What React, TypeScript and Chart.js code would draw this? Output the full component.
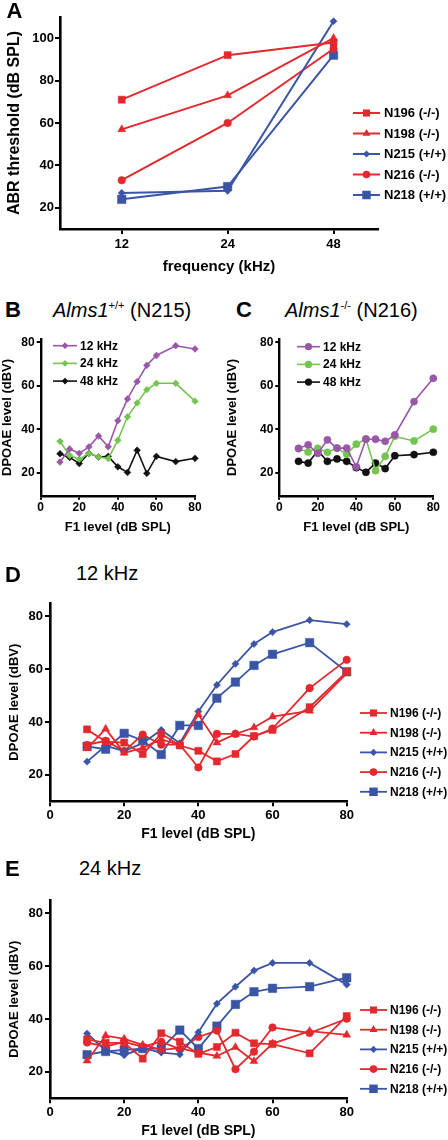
import React, { useEffect, useRef } from 'react';
import { Chart, registerables } from 'chart.js';

Chart.register(...registerables);

const FONT = "'Liberation Sans', Arial, Helvetica, sans-serif";

// ---------- Panel A: ABR thresholds ----------
const abrFreqLabels = ['12', '24', '48'];
const abrN196 = [71, 92, 98];
const abrN198 = [57, 73, 100];
const abrN215 = [27, 28, 108];
const abrN216 = [33, 60, 95];
const abrN218 = [24, 30, 92];
const abrYTicks = [20, 40, 60, 80, 100];

// ---------- DPOAE: F1 levels ----------
const f1Levels = [10, 15, 20, 25, 30, 35, 40, 45, 50, 55, 60, 70, 80];
const f1Ticks = [0, 20, 40, 60, 80];
const dpoaeTicks = [20, 40, 60, 80];

// Panel B: N215 (+/+)
const n215at12 = [25, 31, 29, 32, 37, 32, 44, 54, 62, 69.5, 74, 78.5, 77];
const n215at24 = [34.5, 28, 26.3, 29, 27.3, 26.6, 35, 45.8, 52.2, 58.3, 61.2, 61.2, 53];
const n215at48 = [28.8, 27.1, 24.3, 29, 27.3, 27.6, 22.8, 20.2, 30.4, 19.8, 27.6, 25.2, 26.7];

// Panel C: N216 (-/-)
const n216at12 = [31.3, 32.9, 29, 35.2, 31.4, 31.4, 22.8, 35.5, 35.5, 34.5, 37.5, 52.8, 63.5];
const n216at24 = [31.1, 29.6, 31.3, 29.5, 31.4, 28.6, 33.2, 35.6, 21, 27.6, 36.8, 34.7, 40.1];
const n216at48 = [25.3, 24.5, 30.2, 25.3, 26.4, 25.3, 22.4, 20.3, 24.5, 22, 27.9, 28.4, 29.5];

// Panel D: 12 kHz
const n196at12 = [37.2, 32.6, 32.2, 27.9, 35.5, 31.1, 29.1, 25.1, 27.9, 34.7, 37, 45.6, 58.9];
const n198at12 = [30, 37.4, 28.3, 30.2, 33.5, 31.2, 42.8, 32.2, 35.4, 37.9, 42, 44.2, 58.4];
const n218at12 = [30.8, 29.7, 35.7, 33, 27.7, 38.7, 38.7, 49, 55.1, 61.4, 65.6, 70, 59];

// Panel E: 24 kHz
const n196at24 = [32.3, 31, 31, 25, 34.6, 31.4, 26.8, 29.4, 34.8, 30.8, 30.5, 27, 41.1];
const n198at24 = [24.2, 33.7, 32.5, 30.2, 28.3, 29, 27.3, 26, 29.3, 24, 30.7, 35.4, 34];
const n218at24 = [26.5, 27.7, 28.3, 28.8, 28.8, 35.8, 28.8, 37.3, 45.5, 50.3, 51.6, 52.2, 55.6];

const animalLabels = ['N196 (-/-)', 'N198 (-/-)', 'N215 (+/+)', 'N216 (-/-)', 'N218 (+/+)'];
const freqLabels = ['12 kHz', '24 kHz', '48 kHz'];

// ---------- styles ----------
const RED = '#e3282e';
const BLUE = '#3a55a5';
const PURPLE = '#9a56a9';
const GREEN = '#74c54f';
const BLACK = '#111111';

type Sty = { color: string; pointStyle: string; radius: number };
const animalStyle: Sty[] = [
  { color: RED, pointStyle: 'rect', radius: 5 },
  { color: RED, pointStyle: 'triangle', radius: 4.6 },
  { color: BLUE, pointStyle: 'rectRot', radius: 3.6 },
  { color: RED, pointStyle: 'circle', radius: 3.8 },
  { color: BLUE, pointStyle: 'rect', radius: 6 },
];
const freqStyleB: Sty[] = [
  { color: PURPLE, pointStyle: 'rectRot', radius: 3.4 },
  { color: GREEN, pointStyle: 'rectRot', radius: 3.4 },
  { color: BLACK, pointStyle: 'rectRot', radius: 3.4 },
];
const freqStyleC: Sty[] = [
  { color: PURPLE, pointStyle: 'circle', radius: 3.6 },
  { color: GREEN, pointStyle: 'circle', radius: 3.6 },
  { color: BLACK, pointStyle: 'circle', radius: 3.6 },
];

function pairs(xs: number[], ys: number[]) {
  return xs.map((x, i) => ({ x, y: ys[i] }));
}

function ds(label: string, data: any[], st: Sty, lineWidth: number) {
  return {
    label,
    data,
    borderColor: st.color,
    backgroundColor: st.color,
    pointBackgroundColor: st.color,
    pointBorderColor: st.color,
    pointStyle: st.pointStyle,
    pointRadius: st.radius,
    pointHoverRadius: st.radius,
    pointBorderWidth: 0.5,
    borderWidth: lineWidth,
    tension: 0,
    fill: false,
    clip: false,
  };
}

function drawMarker(ctx: CanvasRenderingContext2D, style: string, x: number, y: number, r: number, color: string) {
  ctx.fillStyle = color;
  ctx.beginPath();
  if (style === 'rect') {
    const s = r * Math.SQRT1_2;
    ctx.rect(x - s, y - s, 2 * s, 2 * s);
  } else if (style === 'rectRot') {
    ctx.moveTo(x - r, y);
    ctx.lineTo(x, y - r);
    ctx.lineTo(x + r, y);
    ctx.lineTo(x, y + r);
    ctx.closePath();
  } else if (style === 'triangle') {
    ctx.moveTo(x, y - r);
    ctx.lineTo(x + 0.866 * r, y + 0.5 * r);
    ctx.lineTo(x - 0.866 * r, y + 0.5 * r);
    ctx.closePath();
  } else {
    ctx.arc(x, y, r, 0, Math.PI * 2);
  }
  ctx.fill();
}

const sideLegend = {
  id: 'sideLegend',
  afterDraw(chart: any, _args: any, opts: any) {
    if (!opts || !opts.show) return;
    const ctx: CanvasRenderingContext2D = chart.ctx;
    ctx.save();
    chart.data.datasets.forEach((d: any, i: number) => {
      const y = opts.y0 + i * opts.spacing;
      ctx.strokeStyle = d.borderColor;
      ctx.lineWidth = opts.lineWidth;
      ctx.beginPath();
      ctx.moveTo(opts.x1, y);
      ctx.lineTo(opts.x2, y);
      ctx.stroke();
      drawMarker(ctx, d.pointStyle, (opts.x1 + opts.x2) / 2, y, d.pointRadius, d.borderColor);
      ctx.fillStyle = '#000';
      ctx.font = `bold ${opts.size}px ${FONT}`;
      ctx.textAlign = 'left';
      ctx.textBaseline = 'middle';
      ctx.fillText(d.label, opts.textX, y + 0.5);
    });
    ctx.restore();
  },
};

type Box = { left: number; top: number; width: number; height: number };
type Spec = {
  canvas: Box;
  area: { l: number; t: number; r: number; b: number };
  datasets: any[];
  xMin: number; xMax: number; xTicks: number[]; xFmt?: (v: number) => string;
  yMin: number; yMax: number; yTicks: number[];
  xTitle: string; yTitle: string;
  xTitleSize: number; yTitleSize: number;
  xTitleCenter: number; yTitleCenter: number;
  tickSize: number; tickLen: number; yTickPad: number; xTickPad: number;
  legend: { x1: number; x2: number; textX: number; y0: number; spacing: number; size: number; lineWidth: number };
  axisWidth: number;
};

function buildConfig(p: Spec): any {
  const c = p.canvas;
  const padTop = p.area.t - c.top;
  const padRight = c.left + c.width - p.area.r;
  const yW = p.area.l - c.left;
  const xH = c.top + c.height - p.area.b;
  const yLH = p.yTitleSize * 1.2;
  const xLH = p.xTitleSize * 1.2;
  const yTitlePad = Math.max(0, p.yTitleCenter - c.left - yLH / 2);
  const xTitlePad = Math.max(0, c.top + c.height - xLH / 2 - p.xTitleCenter);
  const tickFont = { family: FONT, size: p.tickSize, weight: 'bold' as const };
  const grid = { drawOnChartArea: false, drawTicks: true, tickLength: p.tickLen, color: '#000', lineWidth: 2 };
  const border = { display: true, color: '#000', width: p.axisWidth };
  return {
    type: 'line',
    data: { datasets: p.datasets },
    plugins: [sideLegend],
    options: {
      responsive: false,
      animation: false,
      events: [],
      layout: { padding: { left: 0, top: padTop, right: padRight, bottom: 0 } },
      plugins: {
        legend: { display: false },
        tooltip: { enabled: false },
        sideLegend: {
          show: true,
          x1: p.legend.x1 - c.left,
          x2: p.legend.x2 - c.left,
          textX: p.legend.textX - c.left,
          y0: p.legend.y0 - c.top,
          spacing: p.legend.spacing,
          size: p.legend.size,
          lineWidth: p.legend.lineWidth,
        },
      },
      scales: {
        x: {
          type: 'linear',
          position: 'bottom',
          min: p.xMin,
          max: p.xMax,
          afterBuildTicks: (s: any) => { s.ticks = p.xTicks.map((v) => ({ value: v })); },
          afterFit: (s: any) => { s.height = xH; },
          ticks: {
            font: tickFont, color: '#000', padding: p.xTickPad, autoSkip: false, maxRotation: 0,
            callback: (v: any) => (p.xFmt ? p.xFmt(Number(v)) : String(v)),
          },
          grid,
          border,
          title: {
            display: true, text: p.xTitle, color: '#000',
            font: { family: FONT, size: p.xTitleSize, weight: 'bold' },
            padding: { top: 0, bottom: xTitlePad },
          },
        },
        y: {
          type: 'linear',
          position: 'left',
          min: p.yMin,
          max: p.yMax,
          afterBuildTicks: (s: any) => { s.ticks = p.yTicks.map((v) => ({ value: v })); },
          afterFit: (s: any) => { s.width = yW; },
          ticks: { font: tickFont, color: '#000', padding: p.yTickPad, autoSkip: false },
          grid,
          border,
          title: {
            display: true, text: p.yTitle, color: '#000',
            font: { family: FONT, size: p.yTitleSize, weight: 'bold' },
            padding: { top: yTitlePad, bottom: 0 },
          },
        },
      },
    },
  };
}

function Panel({ spec }: { spec: Spec }) {
  const ref = useRef<HTMLCanvasElement>(null);
  useEffect(() => {
    const chart = new Chart(ref.current as HTMLCanvasElement, buildConfig(spec));
    return () => chart.destroy();
  }, []);
  const c = spec.canvas;
  return (
    <canvas
      ref={ref}
      width={c.width}
      height={c.height}
      style={{ position: 'absolute', left: c.left, top: c.top, width: c.width, height: c.height }}
    />
  );
}

const abrIdx = abrFreqLabels.map((_, i) => i);

const specA: Spec = {
  canvas: { left: 0, top: 0, width: 448, height: 285 },
  area: { l: 60, t: 17, r: 378, b: 229 },
  datasets: [
    ds(animalLabels[0], pairs(abrIdx, abrN196), animalStyle[0], 2),
    ds(animalLabels[1], pairs(abrIdx, abrN198), animalStyle[1], 2),
    ds(animalLabels[2], pairs(abrIdx, abrN215), animalStyle[2], 2),
    ds(animalLabels[3], pairs(abrIdx, abrN216), animalStyle[3], 2),
    ds(animalLabels[4], pairs(abrIdx, abrN218), animalStyle[4], 2),
  ],
  xMin: -0.583, xMax: 2.42, xTicks: abrIdx, xFmt: (v) => abrFreqLabels[Math.round(v)] ?? '',
  yMin: 10, yMax: 110, yTicks: abrYTicks,
  xTitle: 'frequency (kHz)', yTitle: 'ABR threshold (dB SPL)',
  xTitleSize: 15, yTitleSize: 16,
  xTitleCenter: 267, yTitleCenter: 15,
  tickSize: 13, tickLen: 5, yTickPad: 1, xTickPad: 3,
  legend: { x1: 353, x2: 380, textX: 384, y0: 113, spacing: 20.5, size: 13, lineWidth: 2 },
  axisWidth: 2.6,
};

const specB: Spec = {
  canvas: { left: 0, top: 330, width: 224, height: 215 },
  area: { l: 40.7, t: 338.3, r: 195, b: 495.7 },
  datasets: [
    ds(freqLabels[0], pairs(f1Levels, n215at12), freqStyleB[0], 1.6),
    ds(freqLabels[1], pairs(f1Levels, n215at24), freqStyleB[1], 1.6),
    ds(freqLabels[2], pairs(f1Levels, n215at48), freqStyleB[2], 1.6),
  ],
  xMin: 0, xMax: 80, xTicks: f1Ticks,
  yMin: 9.5, yMax: 81.5, yTicks: dpoaeTicks,
  xTitle: 'F1 level (dB SPL)', yTitle: 'DPOAE level (dBV)',
  xTitleSize: 13, yTitleSize: 13,
  xTitleCenter: 527, yTitleCenter: 7.5,
  tickSize: 12, tickLen: 4, yTickPad: 2, xTickPad: 1,
  legend: { x1: 53, x2: 77, textX: 80, y0: 345.7, spacing: 17.7, size: 12, lineWidth: 1.6 },
  axisWidth: 2.4,
};

const specC: Spec = {
  canvas: { left: 220, top: 330, width: 228, height: 215 },
  area: { l: 279.3, t: 338.3, r: 433.3, b: 495.7 },
  datasets: [
    ds(freqLabels[0], pairs(f1Levels, n216at12), freqStyleC[0], 1.6),
    ds(freqLabels[1], pairs(f1Levels, n216at24), freqStyleC[1], 1.6),
    ds(freqLabels[2], pairs(f1Levels, n216at48), freqStyleC[2], 1.6),
  ],
  xMin: 0, xMax: 80, xTicks: f1Ticks,
  yMin: 9.5, yMax: 81.5, yTicks: dpoaeTicks,
  xTitle: 'F1 level (dB SPL)', yTitle: 'DPOAE level (dBV)',
  xTitleSize: 13, yTitleSize: 13,
  xTitleCenter: 527, yTitleCenter: 232.7,
  tickSize: 12, tickLen: 4, yTickPad: 2, xTickPad: 1,
  legend: { x1: 297, x2: 320, textX: 323, y0: 346.7, spacing: 17.7, size: 12, lineWidth: 1.6 },
  axisWidth: 2.4,
};

function specDE(top: number, series: number[][]): Spec {
  return {
    canvas: { left: 0, top, width: 448, height: 253 },
    area: { l: 50, t: top + 13, r: 346.7, b: top + 211.3 },
    datasets: series.map((s, i) => ds(animalLabels[i], pairs(f1Levels, s), animalStyle[i], 1.8)),
    xMin: 0, xMax: 80, xTicks: f1Ticks,
    yMin: 10, yMax: 85, yTicks: dpoaeTicks,
    xTitle: 'F1 level (dB SPL)', yTitle: 'DPOAE level (dBV)',
    xTitleSize: 14, yTitleSize: 13,
    xTitleCenter: top + 244.7, yTitleCenter: 14,
    tickSize: 13, tickLen: 5, yTickPad: 2, xTickPad: 1,
    legend: { x1: 360, x2: 387, textX: 390, y0: top + 123, spacing: 19.7, size: 12, lineWidth: 1.8 },
    axisWidth: 2.6,
  };
}

const specD = specDE(590, [n196at12, n198at12, n215at12, n216at12, n218at12]);
const specE = specDE(887, [n196at24, n198at24, n215at24, n216at24, n218at24]);

const letterStyle = (left: number, top: number): React.CSSProperties => ({
  position: 'absolute', left, top, fontFamily: FONT, fontWeight: 'bold', fontSize: 22, lineHeight: '22px', color: '#000', whiteSpace: 'nowrap',
});
const titleStyle = (left: number, top: number): React.CSSProperties => ({
  position: 'absolute', left, top, fontFamily: FONT, fontWeight: 'normal', fontSize: 20, lineHeight: '20px', color: '#000', whiteSpace: 'nowrap',
});
const supStyle: React.CSSProperties = { fontSize: 11, position: 'relative', top: -8, fontStyle: 'normal' };

export default function App() {
  return (
    <div style={{ position: 'absolute', left: 0, top: 0, width: 448, height: 1140, background: '#fff', overflow: 'hidden' }}>
      <Panel spec={specA} />
      <Panel spec={specB} />
      <Panel spec={specC} />
      <Panel spec={specD} />
      <Panel spec={specE} />
      <div style={letterStyle(6.5, 0)}>A</div>
      <div style={letterStyle(5, 299)}>B</div>
      <div style={letterStyle(236, 299)}>C</div>
      <div style={letterStyle(5, 563.5)}>D</div>
      <div style={letterStyle(5, 858)}>E</div>
      <div style={titleStyle(53, 300)}>
        <i>Alms1</i><span style={supStyle}>+/+</span> (N215)
      </div>
      <div style={titleStyle(285, 300)}>
        <i>Alms1</i><span style={supStyle}>-/-</span> (N216)
      </div>
      <div style={titleStyle(76, 562.5)}>12 kHz</div>
      <div style={titleStyle(79, 858)}>24 kHz</div>
    </div>
  );
}
